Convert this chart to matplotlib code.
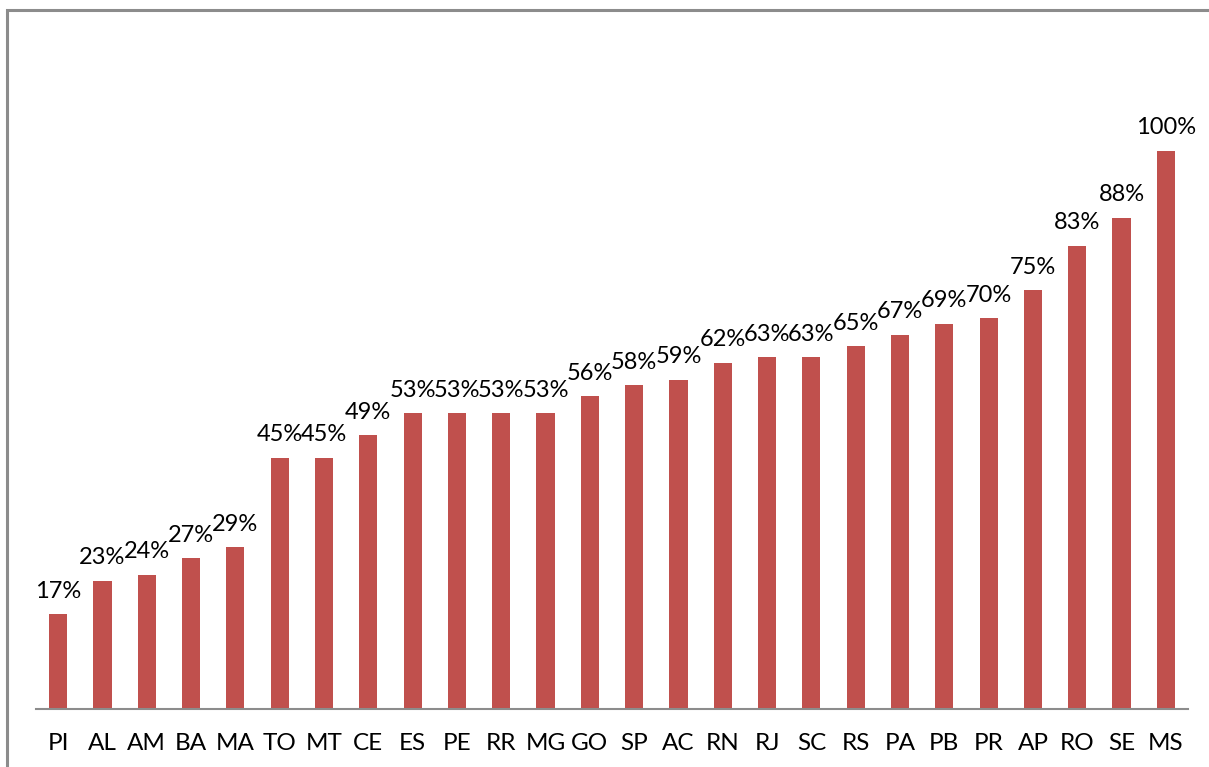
import matplotlib
matplotlib.use("Agg")
import matplotlib.pyplot as plt
from matplotlib.patches import Rectangle

# States ordered by share
states = ["PI", "AL", "AM", "BA", "MA", "TO", "MT", "CE", "ES", "PE", "RR", "MG", "GO",
          "SP", "AC", "RN", "RJ", "SC", "RS", "PA", "PB", "PR", "AP", "RO", "SE", "MS"]
shares = [17, 23, 24, 27, 29, 45, 45, 49, 53, 53, 53, 53, 56,
          58, 59, 62, 63, 63, 65, 67, 69, 70, 75, 83, 88, 100]

W, H = 1209, 767
fig = plt.figure(figsize=(W / 100, H / 100), dpi=100)
plt.rcParams['font.family'] = ['Lato', 'DejaVu Sans']

# chart-area frame (runs off the right and bottom edges)
fig.patches.append(Rectangle((6.5 / W, -0.05), 1.1, (H - 9.5) / H + 0.05,
                             transform=fig.transFigure, fill=False,
                             edgecolor="#8c8c8c", linewidth=2.2))

ax = fig.add_axes([36 / W, (H - 709) / H, (1188 - 36) / W, (709 - 39) / H])
x = range(len(states))
bars = ax.bar(x, [s / 100 for s in shares], width=0.41, color="#C0504D")

for i, s in enumerate(shares):
    ax.annotate(f"{s}%", (i, s / 100), xytext=(0, 9), textcoords="offset points",
                ha="center", va="bottom", fontsize=17, color="black")

ax.set_xlim(-0.5, len(states) - 0.5)
ax.set_ylim(0, 1.2)
ax.set_xticks(list(x))
ax.set_xticklabels(states, fontsize=17.5)
ax.tick_params(axis="x", length=0, pad=17)
ax.set_yticks([])
for side in ("left", "right", "top"):
    ax.spines[side].set_visible(False)
ax.spines["bottom"].set_color("#8c8c8c")
ax.spines["bottom"].set_linewidth(1.5)

fig.savefig("out.png", dpi=100)
